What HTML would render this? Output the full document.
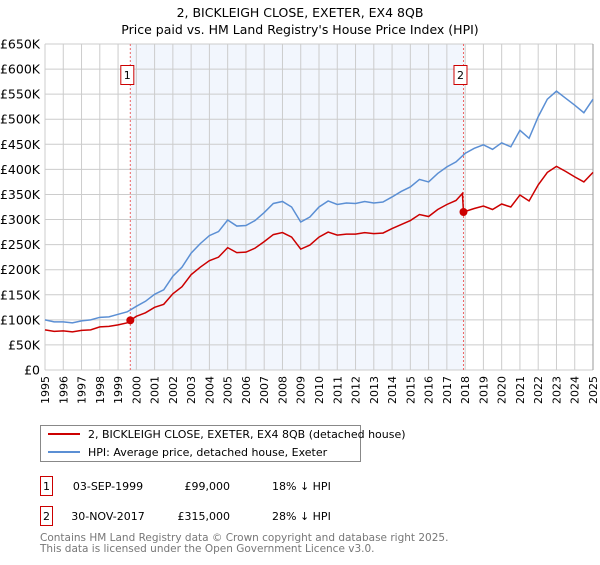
<!DOCTYPE html>
<html><head><meta charset="utf-8"><style>
body{margin:0;background:#fff;font-family:"Liberation Sans","DejaVu Sans",sans-serif}
svg text{font-family:"DejaVu Sans","Liberation Sans",sans-serif}
</style></head><body>
<svg id="c" width="600" height="560" xmlns="http://www.w3.org/2000/svg">
<text x="300" y="17" text-anchor="middle" font-size="12.5">2, BICKLEIGH CLOSE, EXETER, EX4 8QB</text>
<text x="300" y="34" text-anchor="middle" font-size="12.5">Price paid vs. HM Land Registry's House Price Index (HPI)</text>
<g id="plot"></g>
<g>
<rect x="40.5" y="425.5" width="320" height="36" fill="#fff" stroke="#888"/>
<line x1="48" y1="434" x2="80" y2="434" stroke="#cc0000" stroke-width="2"/>
<text x="88" y="438" font-size="11">2, BICKLEIGH CLOSE, EXETER, EX4 8QB (detached house)</text>
<line x1="48" y1="452" x2="80" y2="452" stroke="#5b8fd4" stroke-width="2"/>
<text x="88" y="456" font-size="11">HPI: Average price, detached house, Exeter</text>
</g>
<g font-size="11">
<rect x="40.5" y="476.5" width="12" height="19" fill="#fff" stroke="#cc0000"/>
<text x="46.5" y="490" text-anchor="middle">1</text>
<text x="108" y="490" text-anchor="middle">03-SEP-1999</text>
<text x="230" y="490" text-anchor="end">£99,000</text>
<text x="272" y="490">18% ↓ HPI</text>
<rect x="40.5" y="506.5" width="12" height="19" fill="#fff" stroke="#cc0000"/>
<text x="46.5" y="520" text-anchor="middle">2</text>
<text x="108" y="520" text-anchor="middle">30-NOV-2017</text>
<text x="230" y="520" text-anchor="end">£315,000</text>
<text x="272" y="520">28% ↓ HPI</text>
</g>
<text x="40" y="541" font-size="10.5" fill="#777">Contains HM Land Registry data © Crown copyright and database right 2025.</text>
<text x="40" y="552" font-size="10.5" fill="#777">This data is licensed under the Open Government Licence v3.0.</text>
</svg>
<script>
const hpiYears=[1995,1995.5,1996,1996.5,1997,1997.5,1998,1998.5,1999,1999.5,2000,2000.5,2001,2001.5,2002,2002.5,2003,2003.5,2004,2004.5,2005,2005.5,2006,2006.5,2007,2007.5,2008,2008.5,2009,2009.5,2010,2010.5,2011,2011.5,2012,2012.5,2013,2013.5,2014,2014.5,2015,2015.5,2016,2016.5,2017,2017.5,2018,2018.5,2019,2019.5,2020,2020.5,2021,2021.5,2022,2022.5,2023,2023.5,2024,2024.5,2025];
const hpiValues=[100,96,96,94,98,100,105,106,111,116,127,137,151,160,187,205,233,252,268,276,299,287,288,298,314,332,336,325,295,305,325,337,330,333,332,336,333,335,345,356,365,380,375,392,405,415,432,442,449,440,453,445,478,462,505,540,556,542,528,513,540];
const priceYears=[1995,1995.5,1996,1996.5,1997,1997.5,1998,1998.5,1999,1999.5,1999.67,2000,2000.5,2001,2001.5,2002,2002.5,2003,2003.5,2004,2004.5,2005,2005.5,2006,2006.5,2007,2007.5,2008,2008.5,2009,2009.5,2010,2010.5,2011,2011.5,2012,2012.5,2013,2013.5,2014,2014.5,2015,2015.5,2016,2016.5,2017,2017.5,2017.85,2017.91,2018.5,2019,2019.5,2020,2020.5,2021,2021.5,2022,2022.5,2023,2023.5,2024,2024.5,2025];
const priceValues=[80,77,78,76,79,80,86,87,90,94,99,107,114,125,131,152,166,190,205,218,225,244,234,235,243,256,270,274,265,241,249,265,275,269,271,271,274,272,273,282,290,298,310,306,320,330,338,352,315,322,327,320,331,325,349,337,369,394,406,396,385,375,394];
const saleYears=[1999.67,2017.91];
const saleValues=[99,315];
const saleLabels=["1","2"];
const yTicks=[0,50,100,150,200,250,300,350,400,450,500,550,600,650];
const yTickLabels=["£0","£50K","£100K","£150K","£200K","£250K","£300K","£350K","£400K","£450K","£500K","£550K","£600K","£650K"];
const xTicks=[1995,1996,1997,1998,1999,2000,2001,2002,2003,2004,2005,2006,2007,2008,2009,2010,2011,2012,2013,2014,2015,2016,2017,2018,2019,2020,2021,2022,2023,2024,2025];

const X0=45,X1=593,Y0=370,Y1=44;
const xs=v=>X0+(v-1995)/30*(X1-X0);
const ys=v=>Y0-v/650*(Y0-Y1);
const NS="http://www.w3.org/2000/svg";
const g=document.getElementById('plot');
function mk(t,a){const e=document.createElementNS(NS,t);for(const k in a)e.setAttribute(k,a[k]);g.appendChild(e);return e;}
let e;
e=mk('rect',{x:xs(saleYears[0]),y:Y1,width:xs(saleYears[1])-xs(saleYears[0]),height:Y0-Y1,fill:'#f2f6fd'});


xTicks.forEach((t,i)=>{
 e=mk('line',{x1:xs(t),x2:xs(t),y1:Y1,y2:Y0,stroke:'#ccc','stroke-width':1});
 
 
 e=mk('text',{x:0,y:0,'font-size':11,'text-anchor':'end',transform:`translate(${xs(t)+4},${Y0+6}) rotate(-90)`});
 e.textContent=t;
 
 
});
yTicks.forEach((t,i)=>{
 e=mk('line',{x1:X0,x2:X1,y1:ys(t),y2:ys(t),stroke:'#ccc','stroke-width':1});
 
 
 e=mk('text',{x:X0-5,y:ys(t)+4.5,'font-size':12.5,'text-anchor':'end'});
 e.textContent=yTickLabels[i];
 
 
});
e=mk('line',{x1:X1,x2:X1,y1:Y1,y2:Y0,stroke:'#999','stroke-width':1});


saleYears.forEach((s,i)=>{
 e=mk('line',{x1:xs(s),x2:xs(s),y1:Y1,y2:Y0,stroke:'#e66','stroke-width':1,'stroke-dasharray':'2,2'});
 
 
 e=mk('rect',{x:xs(s)-9.5,y:65.5,width:13,height:19,fill:'#fff',stroke:'#cc0000'});
 
 
 e=mk('text',{x:xs(s)-3,y:79,'font-size':11,'text-anchor':'middle'});
 e.textContent=saleLabels[i];
 
 
});
e=mk('polyline',{points:hpiYears.map((y,i)=>xs(y)+','+ys(hpiValues[i])).join(' '),fill:'none',stroke:'#5b8fd4','stroke-width':1.5});


e=mk('polyline',{points:priceYears.map((y,i)=>xs(y)+','+ys(priceValues[i])).join(' '),fill:'none',stroke:'#cc0000','stroke-width':1.5});


saleYears.forEach((s,i)=>{
 e=mk('circle',{cx:xs(s),cy:ys(saleValues[i]),r:4,fill:'#cc0000'});
 
 
});
</script>
</body></html>
